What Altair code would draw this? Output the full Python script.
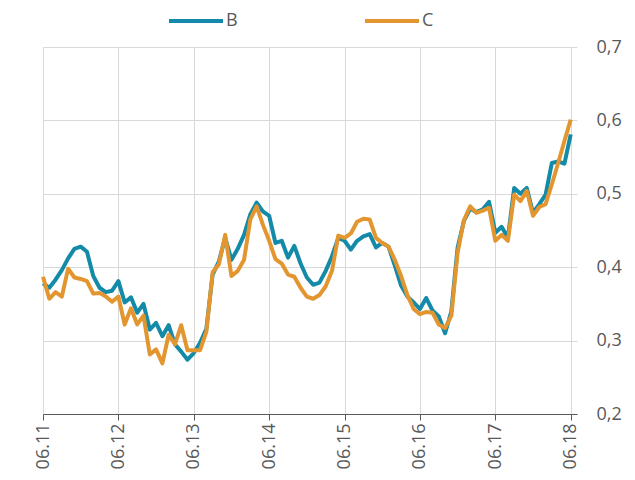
import altair as alt
import pandas as pd

years = ["06.11", "06.12", "06.13", "06.14", "06.15", "06.16", "06.17", "06.18"]
series_names = ["B", "C"]
series_colors = ["#138aa8", "#e3962f"]

B = [0.378, 0.372, 0.383, 0.396, 0.412, 0.425, 0.428, 0.421, 0.388, 0.372, 0.366, 0.368, 0.381,
     0.352, 0.359, 0.338, 0.350, 0.315, 0.324, 0.306, 0.321, 0.295, 0.285, 0.274, 0.283,
     0.297, 0.316, 0.390, 0.408, 0.440, 0.410, 0.425, 0.444, 0.472, 0.488, 0.476, 0.470,
     0.433, 0.436, 0.413, 0.429, 0.405, 0.386, 0.376, 0.379, 0.395, 0.415, 0.440, 0.436,
     0.424, 0.436, 0.442, 0.445, 0.427, 0.433, 0.428, 0.402, 0.375, 0.360, 0.352, 0.343,
     0.358, 0.341, 0.333, 0.310, 0.340, 0.427, 0.463, 0.480, 0.475, 0.479, 0.489, 0.447,
     0.455, 0.440, 0.508, 0.500, 0.508, 0.474, 0.486, 0.499, 0.542, 0.544, 0.541, 0.581]

C = [0.387, 0.357, 0.366, 0.360, 0.398, 0.386, 0.384, 0.381, 0.364, 0.365, 0.360, 0.353, 0.360,
     0.322, 0.344, 0.322, 0.334, 0.281, 0.288, 0.269, 0.308, 0.295, 0.321, 0.287, 0.287,
     0.287, 0.312, 0.393, 0.404, 0.444, 0.388, 0.395, 0.410, 0.465, 0.483, 0.458, 0.436,
     0.411, 0.405, 0.390, 0.387, 0.372, 0.360, 0.357, 0.362, 0.374, 0.395, 0.443, 0.440,
     0.446, 0.462, 0.466, 0.465, 0.440, 0.433, 0.428, 0.410, 0.388, 0.362, 0.343, 0.336,
     0.339, 0.338, 0.322, 0.317, 0.334, 0.420, 0.464, 0.483, 0.474, 0.477, 0.481, 0.436,
     0.444, 0.436, 0.499, 0.490, 0.504, 0.470, 0.482, 0.486, 0.513, 0.542, 0.572, 0.601]

y_ticks = [0.2, 0.3, 0.4, 0.5, 0.6, 0.7]
x_ticks = [12 * i for i in range(len(years))]

rows = []
for i, v in enumerate(B):
    rows.append({"m": i, "series": "B", "value": v})
for i, v in enumerate(C):
    rows.append({"m": i, "series": "C", "value": v})
df = pd.DataFrame(rows)

label_expr = "'06.' + format(11 + datum.value / 12, 'd')"

chart = alt.Chart(df).mark_line(strokeWidth=4, strokeJoin="round").encode(
    x=alt.X("m:Q",
            scale=alt.Scale(domain=[0, 85], nice=False, zero=False),
            axis=alt.Axis(values=x_ticks, labelExpr=label_expr, title=None,
                          labelAngle=270, grid=True, gridColor="#d9d9d9",
                          domainColor="#595959", tickColor="#595959",
                          tickSize=6, labelPadding=3, labelFontSize=18)),
    y=alt.Y("value:Q",
            scale=alt.Scale(domain=[0.2, 0.7], nice=False, zero=False),
            axis=alt.Axis(orient="right", values=y_ticks, title=None,
                          labelExpr="replace(format(datum.value, '.1f'), '.', ',')",
                          grid=True, gridColor="#d9d9d9", domain=False,
                          ticks=False, labelPadding=19, labelFontSize=18)),
    color=alt.Color("series:N",
                    scale=alt.Scale(domain=series_names, range=series_colors),
                    legend=alt.Legend(orient="none", legendX=124, legendY=-55,
                                      direction="horizontal", title=None,
                                      symbolType="stroke", symbolSize=2916,
                                      symbolStrokeWidth=4, labelFontSize=18,
                                      labelOffset=1, columnPadding=119,
                                      padding=0)),
    order="m:Q",
).properties(
    width=534, height=367,
    autosize=alt.AutoSizeParams(type="none"),
    padding={"left": 35, "top": 39, "right": 48, "bottom": 60},
).configure_view(
    strokeOpacity=0
).configure_axis(
    labelFont="Open Sans", labelColor="#595959"
).configure_legend(
    labelFont="Open Sans", labelColor="#595959"
)

chart.save("out.html", embed_options={"renderer": "svg", "actions": False})
